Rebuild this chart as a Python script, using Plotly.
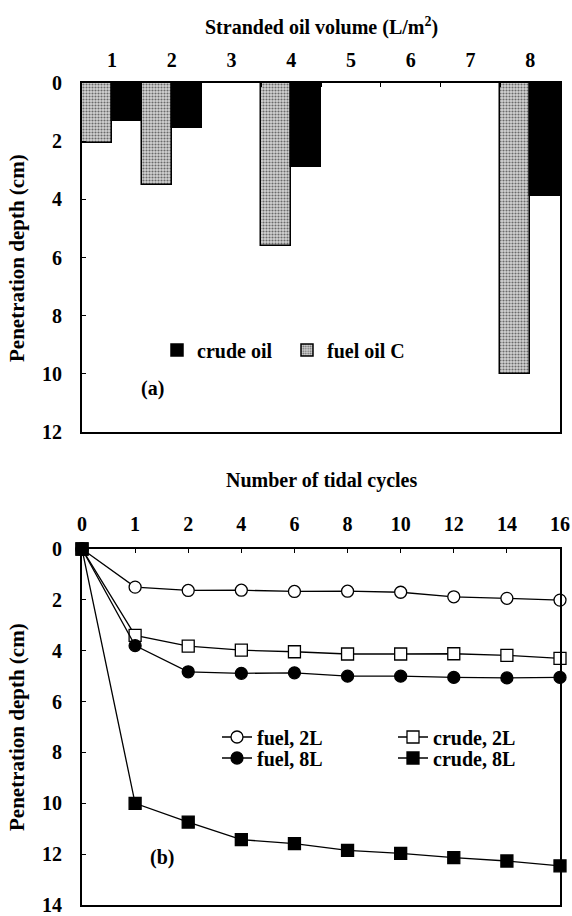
import plotly.graph_objects as go

# ---------------- data ----------------
volumes = ["1", "2", "3", "4", "5", "6", "7", "8"]
crude_depth = [1.3, 1.55, None, 2.88, None, None, None, 3.9]
fuel_depth = [2.05, 3.5, None, 5.6, None, None, None, 10.0]

cycles = ["0", "1", "2", "4", "6", "8", "10", "12", "14", "16"]
fuel_2L = [0, 1.5, 1.63, 1.62, 1.67, 1.66, 1.7, 1.88, 1.94, 2.01]
crude_2L = [0, 3.4, 3.82, 3.98, 4.04, 4.13, 4.13, 4.12, 4.18, 4.3]
fuel_8L = [0, 3.8, 4.83, 4.89, 4.87, 5.0, 5.0, 5.05, 5.07, 5.05]
crude_8L = [0, 10.0, 10.74, 11.43, 11.59, 11.85, 11.97, 12.14, 12.27, 12.46]

W, H = 572, 916
FONT = "Liberation Serif"
FS = 20


def px(x):
    return x / W


def py(y):
    return 1 - y / H


fig = go.Figure()

# ---------------- panel (a) ----------------
fig.add_trace(go.Bar(
    x=volumes, y=fuel_depth, name="fuel oil C", legend="legend2",
    marker=dict(color="#d0d0d0", line=dict(color="black", width=1.5),
                pattern=dict(shape=".", fgcolor="#6a6a6a", bgcolor="#d4d4d4",
                             size=3, solidity=0.4)),
    xaxis="x", yaxis="y",
))
fig.add_trace(go.Bar(
    x=volumes, y=crude_depth, name="crude oil", legend="legend",
    marker=dict(color="black", line=dict(color="black", width=1.5)),
    xaxis="x", yaxis="y",
))

# ---------------- panel (b) ----------------
line_series = [
    ("fuel, 2L", fuel_2L, "circle", "white", "legend3"),
    ("crude, 2L", crude_2L, "square", "white", "legend4"),
    ("fuel, 8L", fuel_8L, "circle", "black", "legend5"),
    ("crude, 8L", crude_8L, "square", "black", "legend6"),
]
for name, vals, sym, fill, leg in line_series:
    fig.add_trace(go.Scatter(
        x=cycles, y=vals, name=name, legend=leg, mode="lines+markers",
        line=dict(color="black", width=1.3),
        marker=dict(symbol=sym, size=12, color=fill,
                    line=dict(color="black", width=1.3)),
        cliponaxis=False, xaxis="x2", yaxis="y2",
    ))

tickfont = dict(family=FONT, size=FS, color="black", weight="bold")
axis_common = dict(showline=True, linecolor="black", linewidth=2, mirror=True,
                   showgrid=False, zeroline=False, tickfont=tickfont,
                   tickcolor="black", ticks="inside", ticklen=4, tickwidth=1,
                   automargin=False)

L, R = 82, 560
fig.update_layout(
    template="none",
    width=W, height=H, margin=dict(l=0, r=0, t=0, b=0, pad=0),
    paper_bgcolor="white", plot_bgcolor="white",
    barmode="group", bargap=0.0, bargroupgap=0.0,
    showlegend=True,
    xaxis=dict(domain=[px(L), px(R)], anchor="y", side="top", type="category",
               range=[-0.5, 7.5], tickson="boundaries", ticklabelstandoff=6,
               **axis_common),
    yaxis=dict(domain=[py(432), py(83)], anchor="x", range=[12, 0], dtick=2,
               ticklabelstandoff=14, **axis_common),
    xaxis2=dict(domain=[px(L), px(R)], anchor="y2", side="top", type="category",
                range=[0, 9], ticklabelstandoff=8, **axis_common),
    yaxis2=dict(domain=[py(905), py(549)], anchor="x2", range=[14, 0], dtick=2,
                ticklabelstandoff=14, **axis_common),
)

legfont = dict(family=FONT, size=FS, color="black", weight="bold")


def leg(text_x, y):
    return dict(x=px(text_x - 40), y=py(y), xanchor="left", yanchor="middle",
                orientation="h", bgcolor="rgba(0,0,0,0)", borderwidth=0,
                font=legfont, itemwidth=30, itemclick=False)


fig.update_layout(
    legend=leg(197, 350),
    legend2=leg(327, 350),
    legend3=leg(257, 737),
    legend4=leg(433, 737),
    legend5=leg(257, 758),
    legend6=leg(433, 758),
)

ann_font = dict(family=FONT, size=FS, color="black")
annotations = [
    dict(text="<b>Stranded oil volume (L/m<sup>2</sup>)</b>", x=px(321), y=py(27)),
    dict(text="<b>Number of tidal cycles</b>", x=px(321), y=py(480)),
    dict(text="<b>(a)</b>", x=px(152), y=py(388)),
    dict(text="<b>(b)</b>", x=px(162), y=py(857)),
    dict(text="<b>Penetration depth (cm)</b>", x=px(17), y=py(258), textangle=-90,
         font=dict(family=FONT, size=21, color="black")),
    dict(text="<b>Penetration depth (cm)</b>", x=px(17), y=py(727), textangle=-90,
         font=dict(family=FONT, size=21, color="black")),
]
for a in annotations:
    a.setdefault("font", ann_font)
    a.update(xref="paper", yref="paper", showarrow=False,
             xanchor="center", yanchor="middle")
fig.update_layout(annotations=annotations)

fig.write_html("out.html", config={"displayModeBar": False},
               post_script="document.body.style.margin='0';")
